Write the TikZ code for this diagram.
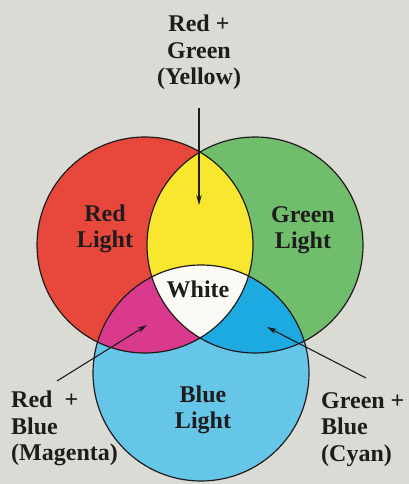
\documentclass[tikz,border=0pt]{standalone}
\usepackage{fontspec}
\setmainfont{Liberation Serif}
\usetikzlibrary{arrows.meta}
\definecolor{bg}{RGB}{219,219,214}
\definecolor{ink}{RGB}{30,28,28}
\definecolor{redl}{RGB}{232,72,60}
\definecolor{greenl}{RGB}{112,190,108}
\definecolor{bluel}{RGB}{102,198,232}
\definecolor{yell}{RGB}{249,230,46}
\definecolor{magl}{RGB}{217,58,142}
\definecolor{cyanl}{RGB}{29,170,224}
\definecolor{whitel}{RGB}{251,250,244}
\begin{document}
\begin{tikzpicture}[x=1pt,y=-1pt,
  lbl/.style={font=\bfseries\fontsize{24}{26.5}\selectfont, text=ink, inner sep=0pt, align=center},
  lbll/.style={lbl, align=left, anchor=west},
  ptr/.style={draw=ink, line width=1.1pt, -{Stealth[length=10pt,width=5.5pt]}},
  rim/.style={draw=ink, line width=1.2pt}]
\fill[bg] (0,0) rectangle (409,484);
\useasboundingbox (0,0) rectangle (409,484);
\coordinate (cR) at (145,245);
\coordinate (cG) at (255,245);
\coordinate (cB) at (201,373);
% base fills
\fill[redl] (cR) circle[radius=108pt];
\fill[greenl] (cG) circle[radius=108pt];
\fill[bluel] (cB) circle[radius=108pt];
% pairwise overlaps
\begin{scope}
  \clip (cR) circle[radius=108pt];
  \fill[yell] (cG) circle[radius=108pt];
  \fill[magl] (cB) circle[radius=108pt];
\end{scope}
\begin{scope}
  \clip (cG) circle[radius=108pt];
  \fill[cyanl] (cB) circle[radius=108pt];
\end{scope}
\begin{scope}
  \clip (cR) circle[radius=108pt];
  \clip (cG) circle[radius=108pt];
  \fill[whitel] (cB) circle[radius=108pt];
\end{scope}
% outlines
\draw[rim] (cR) circle[radius=108pt];
\draw[rim] (cG) circle[radius=108pt];
\draw[rim] (cB) circle[radius=108pt];
% labels
\node[lbl] (yel) at (199,52.5) {Red +\\Green\\(Yellow)};
\node[lbl] (redt) at (105,229) {Red\\Light};
\node[lbl] (greent) at (303,230) {Green\\Light};
\node[lbl, anchor=base] (white) at (198,297) {White};
\node[lbl] (bluet) at (203,410) {Blue\\Light};
\node[lbll] (mag) at (11,428.5) {Red\ \ +\\Blue\\(Magenta)};
\node[lbll] (cyan) at (321,429.5) {Green +\\Blue\\(Cyan)};
% arrows
\coordinate (ya) at (199,108);
\coordinate (yb) at (199,205);
\coordinate (ma) at (57,381);
\coordinate (mb) at (147,325);
\coordinate (ca) at (366,378);
\coordinate (cb) at (267,327);
\draw[ptr] (ya) -- (yb);
\draw[ptr] (ma) -- (mb);
\draw[ptr] (ca) -- (cb);
\end{tikzpicture}
\end{document}
